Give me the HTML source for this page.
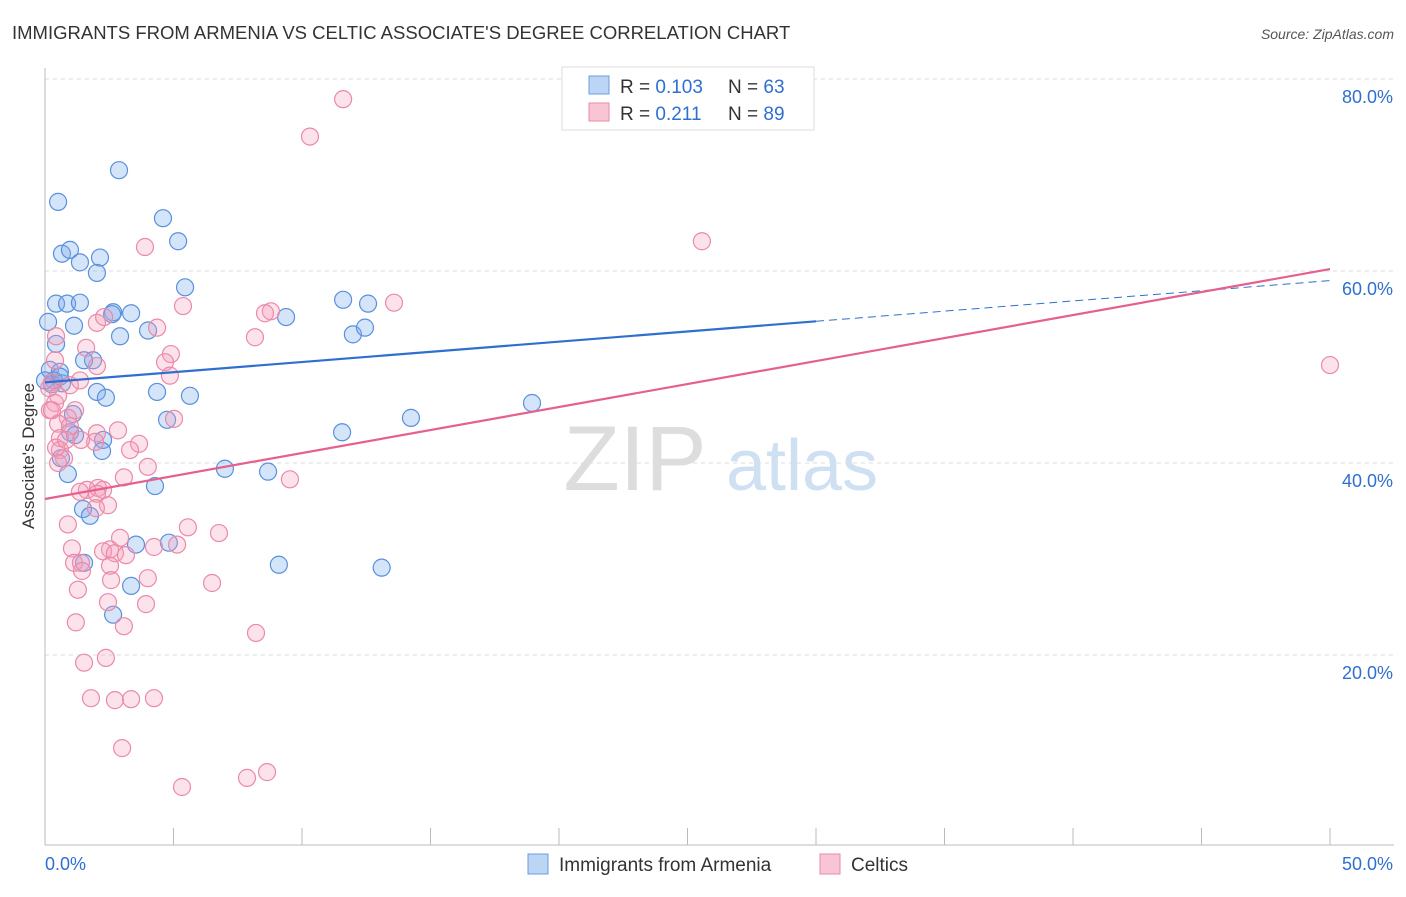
<!DOCTYPE html>
<html><head><meta charset="utf-8"><style>
body{margin:0;background:#fff;font-family:"Liberation Sans",sans-serif;}
svg text{font-family:"Liberation Sans",sans-serif;}
</style></head><body>
<svg id="chart" width="1406" height="892" xmlns="http://www.w3.org/2000/svg">
<text x="12" y="39" font-size="18.5" fill="#333">IMMIGRANTS FROM ARMENIA VS CELTIC ASSOCIATE'S DEGREE CORRELATION CHART</text>
<text x="1394" y="39" font-size="14" fill="#555" text-anchor="end" font-style="italic">Source: ZipAtlas.com</text>
<g>
<text x="635" y="490" font-size="92" fill="#ddd" text-anchor="middle" font-family="Liberation Serif,serif">ZIP</text>
<text x="802" y="490" font-size="72" fill="#cfe0f3" text-anchor="middle">atlas</text>
</g>
<g id="grid"></g>
<g id="axes"></g>
<g id="pts"></g>
<g id="lines"></g>
<text transform="translate(34,456) rotate(-90)" font-size="17" fill="#333" text-anchor="middle">Associate's Degree</text>
<g>
<rect x="562" y="67" width="252" height="63" fill="#fff" stroke="#ddd"/>
<rect x="589" y="76" width="20" height="18" fill="#bcd5f5" stroke="#6a9be0"/>
<rect x="589" y="103" width="20" height="18" fill="#f9c5d5" stroke="#eb8aa8"/>
<text x="620" y="93" font-size="19" fill="#333">R = <tspan fill="#2f6fd0">0.103</tspan></text>
<text x="728" y="93" font-size="19" fill="#333">N = <tspan fill="#2f6fd0">63</tspan></text>
<text x="620" y="120" font-size="19" fill="#333">R = <tspan fill="#2f6fd0"> 0.211</tspan></text>
<text x="728" y="120" font-size="19" fill="#333">N = <tspan fill="#2f6fd0">89</tspan></text>
</g>
<g>
<rect x="528" y="854" width="20" height="20" fill="#bcd5f5" stroke="#6a9be0"/>
<text x="559" y="871" font-size="19" fill="#333">Immigrants from Armenia</text>
<rect x="820" y="854" width="20" height="20" fill="#f9c5d5" stroke="#eb8aa8"/>
<text x="851" y="871" font-size="19" fill="#333">Celtics</text>
</g>
</svg>
<script>
const xTicks=[0,5,10,15,20,25,30,35,40,45,50];
const yTicks=[20,40,60,80];
const yTickLabels=["20.0%","40.0%","60.0%","80.0%"];
const armeniaX=[2.88,0.51,4.59,5.18,0.66,0.97,1.36,2.14,2.02,5.45,0.43,0.86,1.36,2.65,3.35,2.61,9.38,11.6,12.57,1.13,0.12,2.92,4.01,11.98,12.45,0.43,1.87,1.52,0.19,0.58,0.35,0.27,0.66,2.02,2.37,4.36,5.64,4.75,14.24,18.95,1.09,0.97,1.17,2.26,2.22,11.56,0.62,7.0,8.68,4.28,0.89,1.48,1.75,3.54,4.82,1.52,9.1,13.1,3.35,2.65,29.0,0.58,0];
const armeniaY=[70.5,67.2,65.5,63.1,61.8,62.2,60.9,61.4,59.8,58.3,56.6,56.6,56.7,55.7,55.6,55.5,55.2,57.0,56.6,54.3,54.7,53.2,53.8,53.4,54.1,52.4,50.7,50.7,49.7,49.5,48.6,48.2,48.3,47.4,46.8,47.4,47.0,44.5,44.7,46.25,45.1,43.2,42.9,42.4,41.25,43.2,40.5,39.4,39.1,37.6,38.85,35.2,34.5,31.5,31.7,29.6,29.4,29.1,27.2,24.2,77.6,49.0,48.6];
const celticX=[11.6,10.31,25.56,3.89,5.37,8.79,8.56,13.58,2.02,2.3,4.36,8.17,0.43,4.9,1.6,0.39,4.67,2.02,50,4.86,0.27,0.16,0.97,0.51,0.39,0.19,1.17,5.02,0.89,0.51,0.97,0.58,2.02,1.95,1.4,3.66,3.31,0.58,0.74,0.51,4.0,3.07,9.53,2.06,1.63,2.26,1.36,2.02,2.45,1.98,0.89,5.56,6.77,2.92,5.14,4.24,2.53,2.26,2.72,3.15,1.05,1.13,1.4,2.53,1.44,4.0,2.57,6.5,1.28,2.45,3.93,3.07,1.2,8.21,1.52,2.37,1.79,2.72,3.35,4.24,3.0,5.33,7.86,8.64,0.27,0.43,2.84,1.36,0.82];
const celticY=[77.9,74.0,63.1,62.5,56.35,55.8,55.6,56.7,54.6,55.2,54.1,53.1,53.2,51.35,52.0,50.7,50.5,50.1,50.2,49.1,48.4,47.8,48.1,47.0,46.25,45.5,45.5,44.6,44.7,44.1,43.85,42.6,43.1,42.2,42.4,42.0,41.35,41.35,40.5,40.0,39.6,38.5,38.3,37.4,37.2,37.2,37.0,36.8,35.6,35.3,33.6,33.3,32.7,32.2,31.5,31.25,31.0,30.8,30.6,30.4,31.1,29.6,29.6,29.3,28.75,28.0,27.8,27.5,26.8,25.5,25.3,23.0,23.4,22.3,19.2,19.7,15.5,15.3,15.4,15.5,10.3,6.25,7.2,7.8,45.5,41.6,43.4,48.6,42.4];
const armeniaTrend=[48.4,59.0];
const celticTrend=[36.25,60.2];
const armeniaSolidEnd=30;

const X=v=>45+v*1285/50;
const Y=v=>847-v*9.6;
const NS="http://www.w3.org/2000/svg";
function mk(tag,attrs,parent){const e=document.createElementNS(NS,tag);for(const k in attrs)e.setAttribute(k,attrs[k]);parent.appendChild(e);return e;}
const gridG=document.getElementById('grid'),axesG=document.getElementById('axes'),ptsG=document.getElementById('pts'),linesG=document.getElementById('lines');
yTicks.forEach((t,i)=>{
  const l=mk('line',{x1:45,x2:1394,y1:Y(t),y2:Y(t),stroke:'#ddd','stroke-dasharray':'4,4'},gridG);
  
  
  const tx=mk('text',{x:1393,y:Y(t)+24,'font-size':18,fill:'#2f6fd0','text-anchor':'end'},axesG);
  tx.textContent=yTickLabels[i];
  
  
});
const ax=mk('line',{x1:45,x2:1394,y1:845,y2:845,stroke:'#bbb'},axesG);


const ay=mk('line',{x1:45,x2:45,y1:68,y2:845,stroke:'#bbb'},axesG);


xTicks.forEach(t=>{
  const l=mk('line',{x1:X(t),x2:X(t),y1:828,y2:845,stroke:'#bbb'},axesG);
  
  
});
const xl0=mk('text',{x:45,y:870,'font-size':18,fill:'#2f6fd0'},axesG);xl0.textContent='0.0%';


const xl1=mk('text',{x:1393,y:870,'font-size':18,fill:'#2f6fd0','text-anchor':'end'},axesG);xl1.textContent='50.0%';


armeniaX.forEach((x,i)=>{
  const c=mk('circle',{cx:X(x),cy:Y(armeniaY[i]),r:8.5,fill:'rgba(120,170,235,0.32)',stroke:'#5a90dc','stroke-width':1.2},ptsG);
  
  
});
celticX.forEach((x,i)=>{
  const c=mk('circle',{cx:X(x),cy:Y(celticY[i]),r:8.5,fill:'rgba(245,160,190,0.3)',stroke:'#eb8aa8','stroke-width':1.2},ptsG);
  
  
});
const ty=(tr,x)=>tr[0]+(tr[1]-tr[0])*x/50;
const bl=mk('line',{x1:X(0),y1:Y(armeniaTrend[0]),x2:X(armeniaSolidEnd),y2:Y(ty(armeniaTrend,armeniaSolidEnd)),stroke:'#2f6fd0','stroke-width':2.2},linesG);


const bd=mk('line',{x1:X(armeniaSolidEnd),y1:Y(ty(armeniaTrend,armeniaSolidEnd)),x2:X(50),y2:Y(armeniaTrend[1]),stroke:'#2f6fd0','stroke-width':1,'stroke-dasharray':'8,5'},linesG);


const pl=mk('line',{x1:X(0),y1:Y(celticTrend[0]),x2:X(50),y2:Y(celticTrend[1]),stroke:'#e5608e','stroke-width':2.2},linesG);


</script>
</body></html>
